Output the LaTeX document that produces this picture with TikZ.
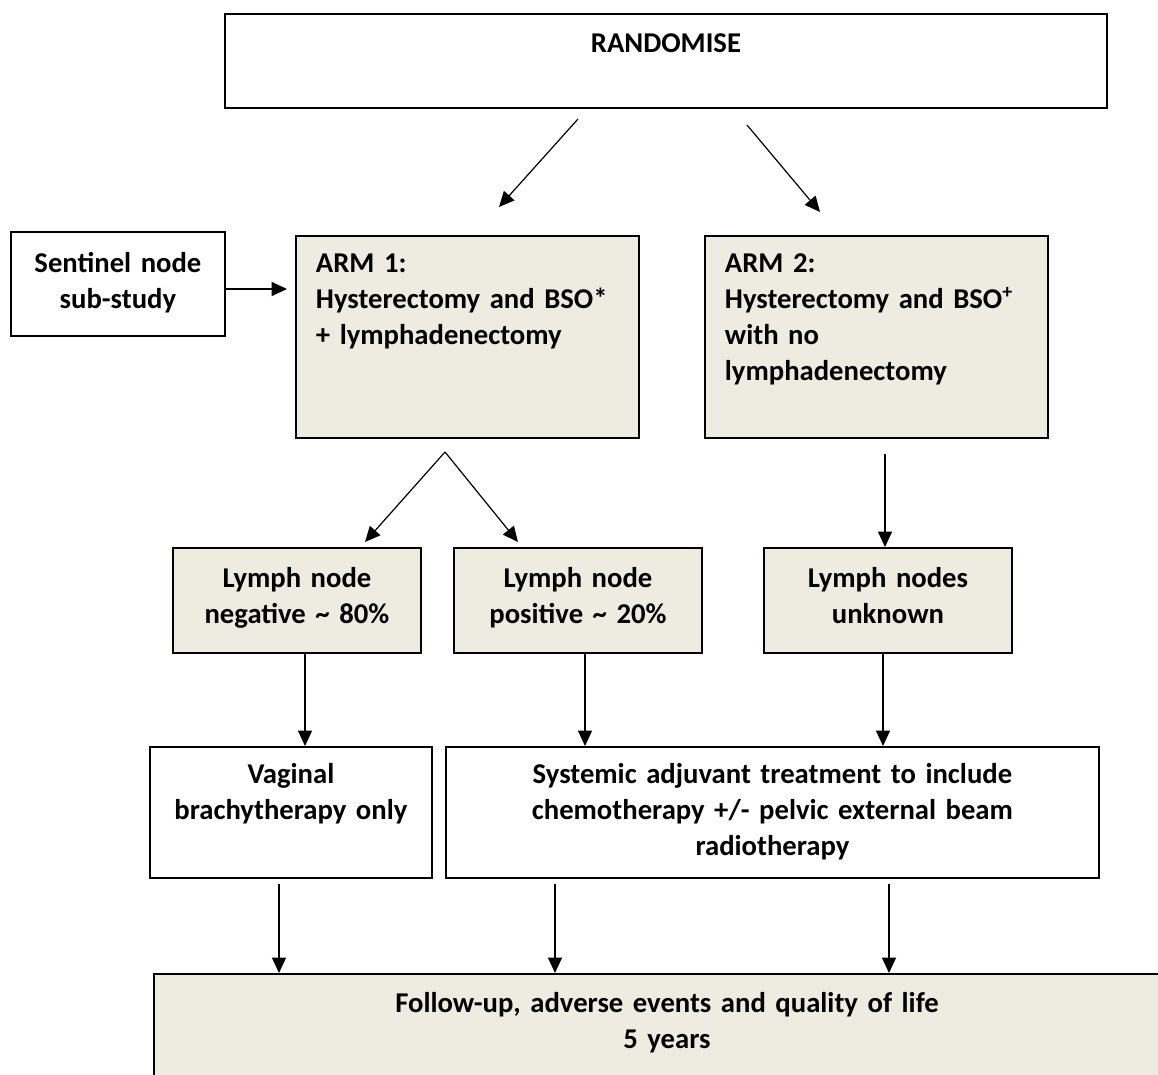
\documentclass[tikz,border=0pt]{standalone}
\usepackage{fontspec}
\setmainfont{Carlito}
\usetikzlibrary{arrows.meta}
\definecolor{tanbg}{RGB}{238,236,225}
\tikzset{every picture/.style={line width=0.75pt}}

\begin{document}
\begin{tikzpicture}[x=0.75pt,y=0.75pt,yscale=-1,xscale=1,
	box/.style={draw=black,line width=1.4pt,anchor=north west,inner xsep=0pt,inner ysep=0pt,align=center,font=\fontsize{21.5}{27}\selectfont\bfseries},
	tanbox/.style={box,fill=tanbg},
	armbox/.style={tanbox,align=left,inner xsep=15pt,text width=227.25pt,text height=27.75pt,text depth=123.75pt},
	lymphbox/.style={tanbox,text width=186pt,text height=30pt,text depth=48.75pt},
	treatbox/.style={box,text height=27.75pt,text depth=70.5pt},
	arr/.style={line width=0.9pt,-{Triangle[length=11.5pt,width=10.5pt]}}]
		\useasboundingbox (0,0) rectangle (1158,1075);
		\clip (0,0) rectangle (1158,1075);
		
		% Boxes
		\node [box,text width=661.5pt,text height=29.25pt,text depth=41.25pt] (rand) at (224,13) {RANDOMISE};
		\node [box,text width=160.5pt,text height=30.75pt,text depth=47.25pt] (sent) at (10,231) {Sentinel node\\sub-study};
		\node [armbox] (arm1) at (295,235) {ARM 1:\\Hysterectomy and BSO*\\+ lymphadenectomy};
		\node [armbox] (arm2) at (704,235) {ARM 2:\\Hysterectomy and BSO\textsuperscript{+}\\with no\\lymphadenectomy};
		\node [lymphbox] (neg) at (172,547) {Lymph node\\negative \textasciitilde{} 80\%};
		\node [lymphbox] (pos) at (453,547) {Lymph node\\positive \textasciitilde{} 20\%};
		\node [lymphbox] (unk) at (763,547) {Lymph nodes\\unknown};
		\node [treatbox,text width=211.5pt] (vag) at (149,746) {Vaginal\\brachytherapy only};
		\node [treatbox,text width=489.75pt] (sys) at (445,746) {Systemic adjuvant treatment to include\\chemotherapy +/- pelvic external beam\\radiotherapy};
		\node [tanbox,text width=769.5pt,text height=29.25pt,text depth=73.5pt] (fup) at (153,973) {Follow-up, adverse events and quality of life\\5 years};
		
		% Free ends of the arrows
		\coordinate (rl0) at (578,119);
		\coordinate (rl1) at (499,207);
		\coordinate (rr0) at (747,125);
		\coordinate (rr1) at (820,212);
		\coordinate (sy) at (0,289);
		\coordinate (split) at (445,452);
		\coordinate (negtip) at (365,542);
		\coordinate (postip) at (518,542);
		\coordinate (a2x) at (885,0);
		\coordinate (negx) at (305,0);
		\coordinate (posx) at (585,0);
		\coordinate (unkx) at (883,0);
		\coordinate (vagx) at (279,0);
		\coordinate (sysx1) at (555,0);
		\coordinate (sysx2) at (889,0);
		
		% Arrows
		\draw [arr] (rl0) -- (rl1);
		\draw [arr] (rr0) -- (rr1);
		\draw [arr,shorten >=6pt] (sent.east |- sy) -- (arm1.west |- sy);
		\draw [arr] (split) -- (negtip);
		\draw [arr] (split) -- (postip);
		\draw [arr,shorten <=11.25pt] (arm2.south -| a2x) -- (unk.north -| a2x);
		\draw [arr] (neg.south -| negx) -- (vag.north -| negx);
		\draw [arr] (pos.south -| posx) -- (sys.north -| posx);
		\draw [arr] (unk.south -| unkx) -- (sys.north -| unkx);
		\draw [arr,shorten <=3.75pt] (vag.south -| vagx) -- (fup.north -| vagx);
		\draw [arr,shorten <=3.75pt] (sys.south -| sysx1) -- (fup.north -| sysx1);
		\draw [arr,shorten <=3.75pt] (sys.south -| sysx2) -- (fup.north -| sysx2);
		
\end{tikzpicture}
\end{document}
